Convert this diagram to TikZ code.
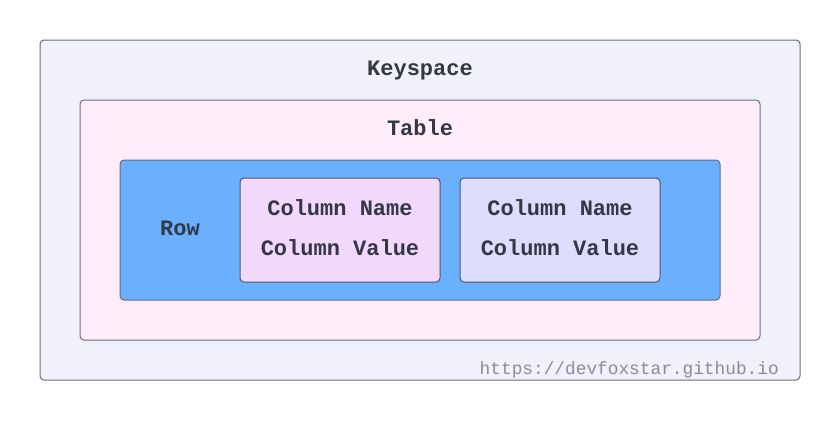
\documentclass[tikz,border=0pt]{standalone}
\usepackage{fontspec}
\setmonofont{Liberation Mono}
\definecolor{ksfill}{HTML}{F1F1FD}
\definecolor{tbfill}{HTML}{FFEEFA}
\definecolor{rowfill}{HTML}{6BAFFF}
\definecolor{c1fill}{HTML}{F2D9FC}
\definecolor{c2fill}{HTML}{DDDCFB}
\definecolor{edge}{HTML}{6A6D7A}
\definecolor{txt}{HTML}{333844}
\definecolor{wm}{HTML}{8A8A9C}
\begin{document}
\begin{tikzpicture}[x=1pt,y=-1pt,
  box/.style={draw=edge, line width=1pt, rounded corners=4pt},
  lbl/.style={text=txt, font=\ttfamily\bfseries\fontsize{22}{26}\selectfont, inner sep=0pt},
  colbox/.style={box, draw=txt!85, minimum width=200pt, minimum height=104pt, align=center,
    font=\ttfamily\bfseries\fontsize{22}{40}\selectfont, text=txt}]
\useasboundingbox (0,0) rectangle (840,440);
\fill[white] (0,0) rectangle (840,440);
\draw[box, fill=ksfill] (40,40) rectangle (800,380);
\node[lbl] (ks) at (420,71) {Keyspace};
\draw[box, fill=tbfill] (80,100) rectangle (760,340);
\node[lbl] (tb) at (420,128) {Table};
\draw[box, fill=rowfill] (120,160) rectangle (720,300);
\node[lbl] (row) at (180,228.5) {Row};
\node[colbox, fill=c1fill] (c1) at (340,230) {};
\node[colbox, fill=c2fill] (c2) at (560,230) {};
\node[lbl, align=center, font=\ttfamily\bfseries\fontsize{22}{40}\selectfont] (t1) at (340,228) {Column Name\\Column Value};
\node[lbl, align=center, font=\ttfamily\bfseries\fontsize{22}{40}\selectfont] (t2) at (560,228) {Column Name\\Column Value};
\node[anchor=base east, text=wm, inner sep=0pt, font=\ttfamily\fontsize{17.8}{20}\selectfont] (wmk) at (779,374) {https://devfoxstar.github.io};
\end{tikzpicture}
\end{document}
